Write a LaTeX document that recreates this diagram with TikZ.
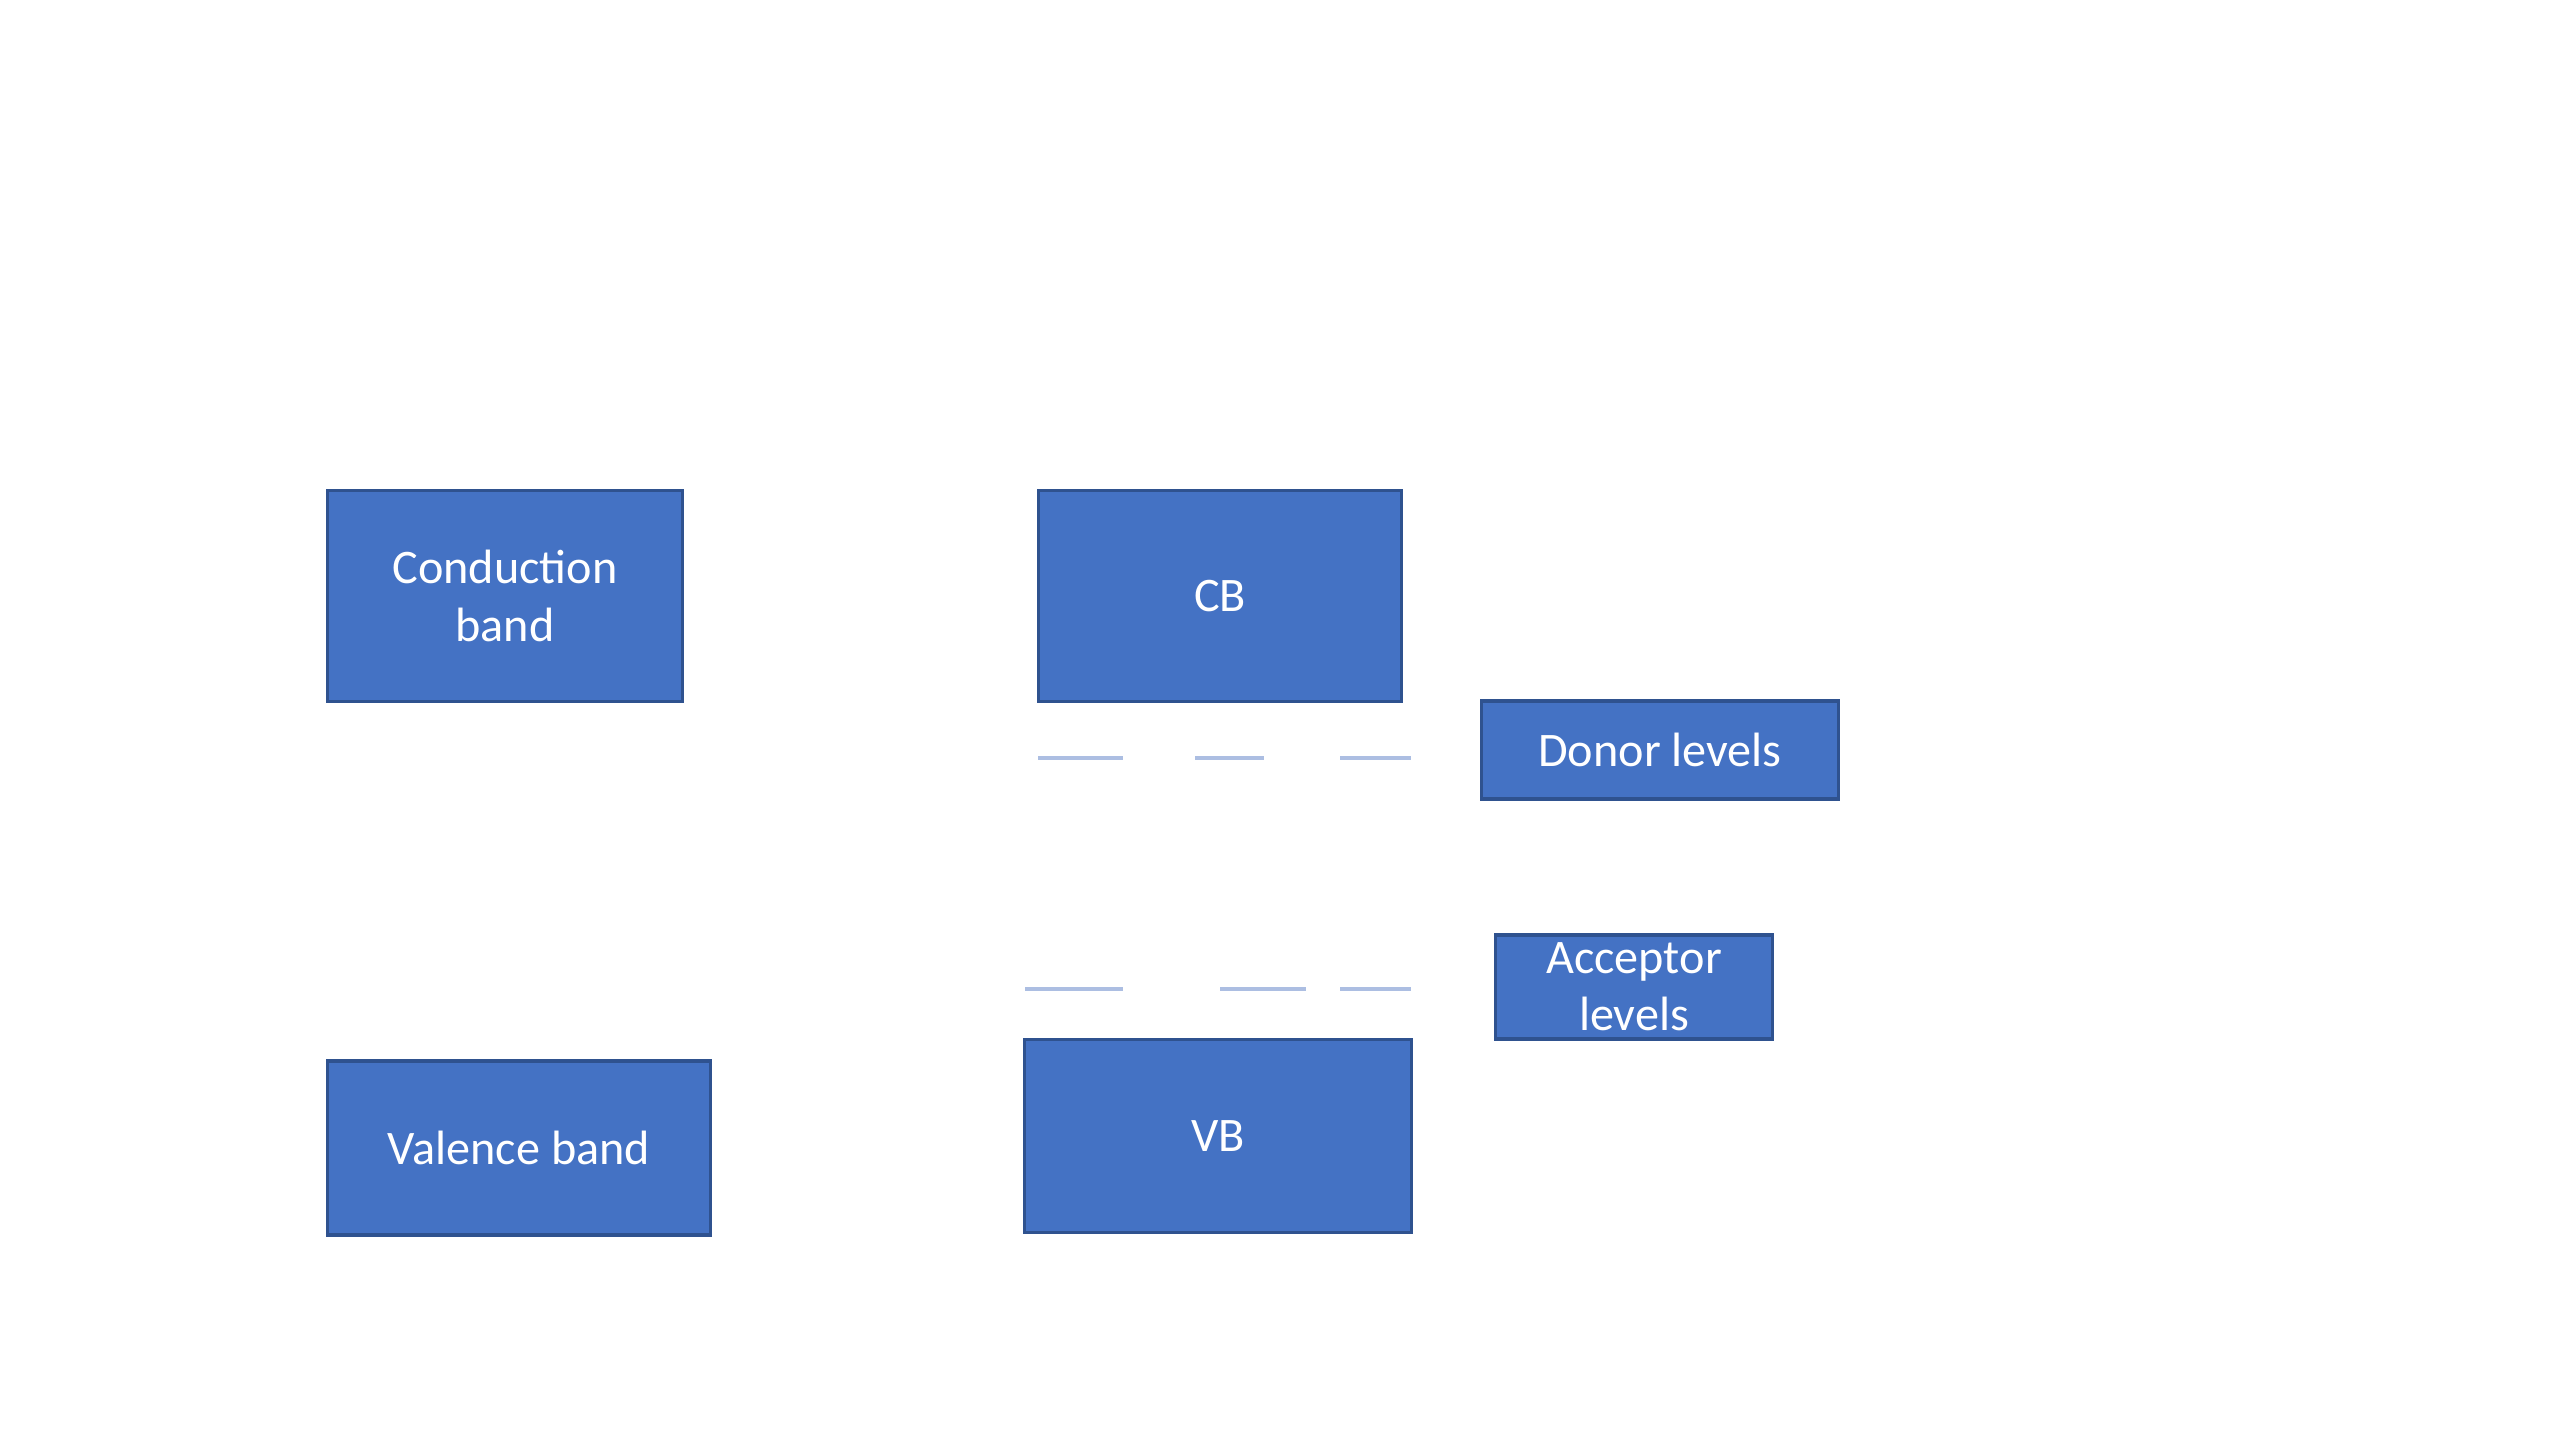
\documentclass[tikz,border=0pt]{standalone}
\usepackage{fontspec}
\setmainfont{Carlito}
\usepackage{xcolor}
\usepackage{tikz}
\definecolor{bandblue}{RGB}{68, 114, 196}
\definecolor{edgeblue}{RGB}{47, 82, 143}
\definecolor{levelblue}{RGB}{172, 190, 226}

\begin{document}
\begin{tikzpicture}[x=0.01cm, y=-0.01cm,
    bandbox/.style={draw=edgeblue, line width=0.9pt, fill=bandblue, text=white,
        align=center, inner sep=0pt, font=\fontsize{13.7}{16.3}\selectfont},
    levelline/.style={levelblue, line width=1pt}]
    \useasboundingbox (0,0) rectangle (2560,1440);
    
    % Plain bands
    \node[bandbox, minimum width=3.55cm, minimum height=2.11cm] (cband) at (505,596) {Conduction\\band};
    \node[bandbox, minimum width=3.82cm, minimum height=1.74cm] (vband) at (519,1148) {Valence band};
    
    % Doped bands
    \node[bandbox, minimum width=3.63cm, minimum height=2.11cm] (cb) at (1220,596) {CB};
    \node[bandbox, minimum width=3.86cm, minimum height=1.93cm] (vb) at (1218,1136) {VB};
    
    % Level labels
    \node[bandbox, minimum width=3.56cm, minimum height=0.98cm] (donor) at (1660,750) {Donor levels};
    \node[bandbox, minimum width=2.77cm, minimum height=1.04cm] (acceptor) at (1634,987) {Acceptor\\levels};
    
    % Donor levels
    \foreach \a/\b in {1038/1123, 1195/1264, 1340/1411}
        \draw[levelline] (\a,758) -- (\b,758);
    
    % Acceptor levels
    \foreach \a/\b in {1025/1123, 1220/1306, 1340/1411}
        \draw[levelline] (\a,989) -- (\b,989);
\end{tikzpicture}
\end{document}
